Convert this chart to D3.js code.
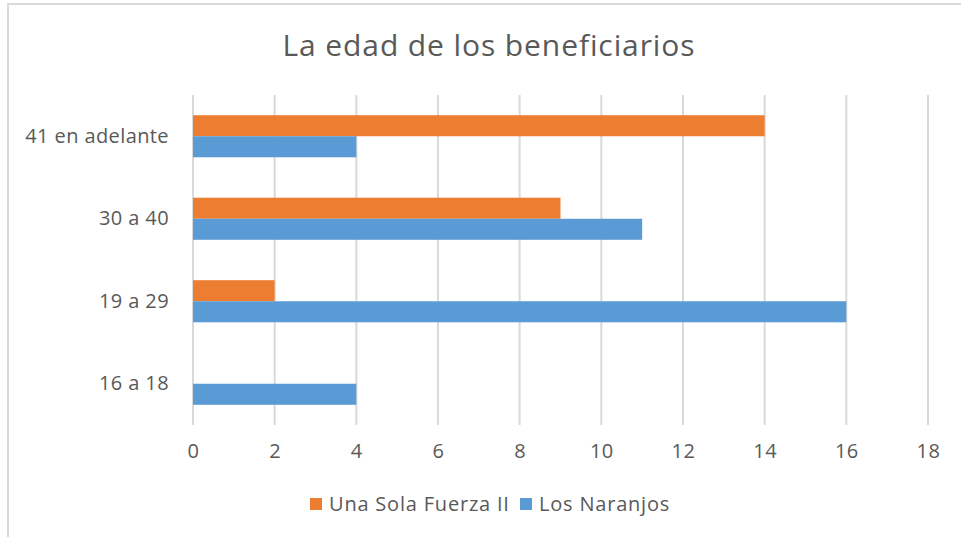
<!DOCTYPE html>
<html>
<head>
  <style>
    body { margin: 0; background: #fff; }
    text { font-family: "Open Sans", sans-serif; fill: #595959; }
  </style>
</head>
<body>
  <svg id="chart" width="961" height="537"></svg>
  <script src="https://d3js.org/d3.v7.min.js"></script>
  <script>
    const categories = ['41 en adelante', '30 a 40', '19 a 29', '16 a 18']
    const series = ['Una Sola Fuerza II', 'Los Naranjos']
    const solaFuerza = [14, 9, 2, 0]
    const naranjos = [4, 11, 16, 4]
    const ticks = [0, 2, 4, 6, 8, 10, 12, 14, 16, 18]
    const colors = ['#ed7d31', '#5b9bd5']

    const svg = d3.select('#chart')
    // chart frame
    svg.append('rect')
      .attr('x', 8).attr('y', 4)
      .attr('width', 970).attr('height', 550)
      .attr('fill', 'none').attr('stroke', '#d9d9d9').attr('stroke-width', 2)

    svg.append('text')
      .attr('x', 489).attr('y', 56)
      .attr('text-anchor', 'middle')
      .attr('font-size', 30)
      .attr('letter-spacing', 0.9)
      .text('La edad de los beneficiarios')

    const x = d3.scaleLinear().domain([0, 18]).range([193, 928])
    const y = d3.scaleBand().domain(categories).range([95, 425]).paddingInner(0.49).paddingOuter(0.245)
    const y1 = d3.scaleBand().domain(series).range([0, y.bandwidth()])

    const grid = svg.append('g')
    grid.selectAll('line').data(ticks).enter().append('line')
      .attr('x1', d => x(d)).attr('x2', d => x(d))
      .attr('y1', 95).attr('y2', 425)
      .attr('stroke', '#d9d9d9').attr('stroke-width', 2)

    const xAxis = svg.append('g')
      .attr('transform', 'translate(0,425)')
      .call(d3.axisBottom(x).tickValues(ticks).tickSize(0).tickPadding(19))
    xAxis.select('.domain').remove()
    xAxis.selectAll('text').attr('font-size', 20).attr('fill', '#595959')
      .attr('letter-spacing', 0.5)
      .style('font-family', '"Open Sans", sans-serif')

    const yAxis = svg.append('g')
      .attr('transform', 'translate(193,0)')
      .call(d3.axisLeft(y).tickSize(0).tickPadding(24))
    yAxis.select('.domain').remove()
    yAxis.selectAll('text').attr('font-size', 20).attr('fill', '#595959')
      .attr('letter-spacing', 0.4)
      .style('font-family', '"Open Sans", sans-serif')

    const rows = categories.map((c, i) => ({ cat: c, vals: [solaFuerza[i], naranjos[i]] }))
    const groups = svg.append('g').selectAll('g').data(rows).enter().append('g')
      .attr('transform', d => `translate(0,${y(d.cat)})`)
    groups.selectAll('rect')
      .data(d => d.vals.map((v, j) => ({ s: series[j], v: v, c: colors[j] })))
      .enter().append('rect')
      .attr('x', x(0))
      .attr('y', d => y1(d.s))
      .attr('width', d => x(d.v) - x(0))
      .attr('height', y1.bandwidth())
      .attr('fill', d => d.c)

    // legend
    const legend = svg.append('g').attr('transform', 'translate(310,504)')
    const items = [{ name: series[0], color: colors[0], dx: 0 }, { name: series[1], color: colors[1], dx: 210 }]
    const li = legend.selectAll('g').data(items).enter().append('g')
      .attr('transform', d => `translate(${d.dx},0)`)
    li.append('rect').attr('x', 0).attr('y', -6).attr('width', 12).attr('height', 12).attr('fill', d => d.color)
    li.append('text').attr('x', 19).attr('y', 7).attr('font-size', 20)
      .attr('letter-spacing', 0.8).text(d => d.name)
  </script>
</body>
</html>
